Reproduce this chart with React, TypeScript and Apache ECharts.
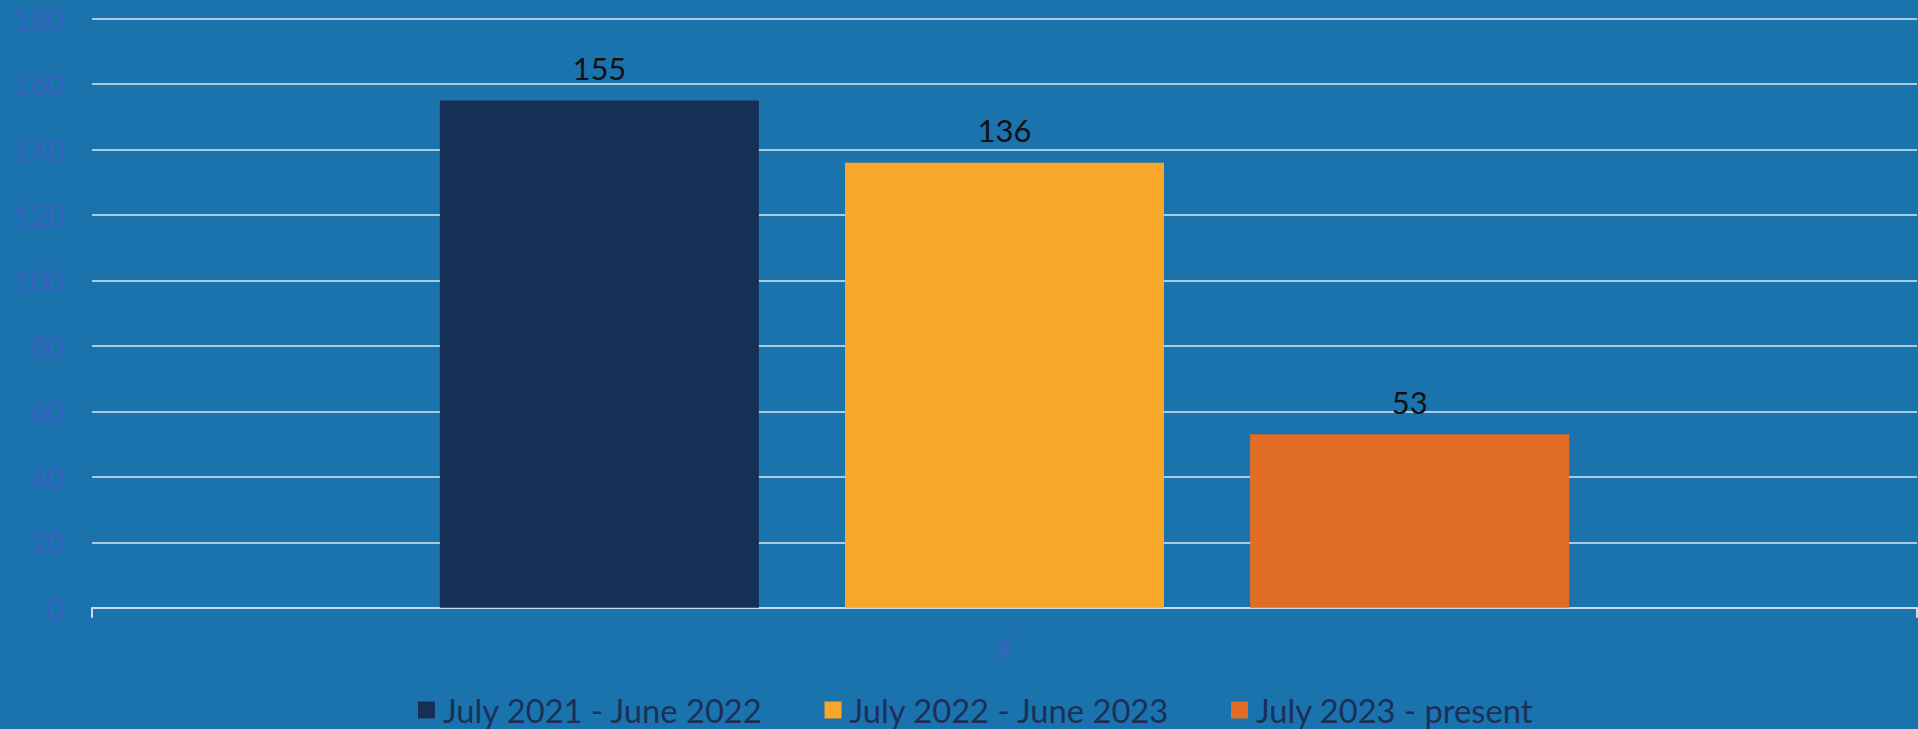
import React, { useEffect, useRef } from "react";
import * as echarts from "echarts";

const categories = ["#"];
const seriesNames = ["July 2021 - June 2022", "July 2022 - June 2023", "July 2023 - present"];
const seriesValues = [155, 136, 53];
const seriesColors = ["#152f55", "#f9a72b", "#e26d26"];
const yMin = 0;
const yMax = 180;
const yInterval = 20;

const FONT = "Lato, 'Noto Sans', sans-serif";

export default function App() {
  const ref = useRef<HTMLDivElement>(null);
  useEffect(() => {
    if (!ref.current) return;
    const chart = echarts.init(ref.current, undefined, { renderer: "svg" });
    chart.setOption({
      animation: false,
      backgroundColor: "#1b73ae",
      textStyle: { fontFamily: FONT },
      grid: { left: 92, right: 1, top: 18.7, bottom: 121.3, containLabel: false },
      legend: {
        left: 418,
        top: 692,
        padding: 0,
        icon: "rect",
        itemWidth: 17,
        itemHeight: 17,
        itemGap: 61,
        textStyle: {
          color: "#1a3058",
          fontSize: 32.7,
          fontFamily: FONT,
          lineHeight: 36,
          padding: [0, 0, 0, 3],
        },
        data: seriesNames,
      },
      xAxis: {
        type: "category",
        data: categories,
        axisLine: { show: true, lineStyle: { color: "#c9dcf0", width: 2 } },
        axisTick: { show: true, length: 10, lineStyle: { color: "#c9dcf0", width: 2 } },
        axisLabel: { color: "#3a62c0", fontSize: 31, margin: 24, fontFamily: FONT },
      },
      yAxis: {
        type: "value",
        min: yMin,
        max: yMax,
        interval: yInterval,
        axisLine: { show: false },
        axisTick: { show: false },
        axisLabel: { color: "#3a62c0", fontSize: 30, margin: 27, fontFamily: FONT },
        splitLine: { lineStyle: { color: "#dce7f3", width: 1.5 } },
      },
      series: seriesNames.map((name, i) => ({
        name,
        type: "bar",
        barWidth: 319,
        barGap: "27%",
        data: [seriesValues[i]],
        itemStyle: { color: seriesColors[i] },
        label: {
          show: true,
          position: "top",
          distance: 17,
          color: "#111111",
          fontSize: 31,
          fontFamily: FONT,
        },
      })),
    });
    return () => chart.dispose();
  }, []);
  return (
    <div
      ref={ref}
      style={{ position: "fixed", left: 0, top: 0, width: 1918, height: 729 }}
    />
  );
}
